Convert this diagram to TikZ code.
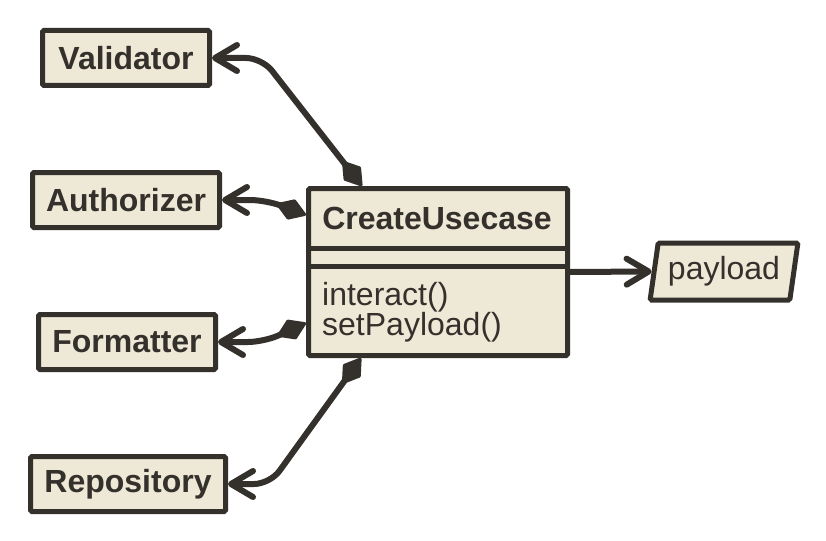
\documentclass[tikz,border=0pt]{standalone}
\usepackage{fontspec}
\setmainfont{Liberation Sans}
\usetikzlibrary{arrows.meta,shapes.geometric,calc}
\definecolor{ink}{HTML}{34312D}
\definecolor{paper}{HTML}{EEE8D6}
\begin{document}
\begin{tikzpicture}[x=1pt,y=-1pt,
  cls/.style={draw=ink, fill=paper, line width=5pt, rounded corners=1.5pt, inner sep=0pt,
    text=ink, font=\fontsize{32}{32}\selectfont\bfseries},
  plain/.style={inner sep=0pt, text=ink, font=\fontsize{32}{30}\selectfont},
  conn/.style={draw=ink, line width=6pt, line cap=round, line join=round, rounded corners=16pt},
  comp/.style={conn, {Diamond[length=34pt,width=22pt,line width=3pt,round]}-{Straight Barb[length=22pt,width=26pt,line width=6pt,round]}},
  dep/.style={conn, -{Straight Barb[length=22pt,width=26pt,line width=6pt,round]}}]
\useasboundingbox (0,0) rectangle (826,540);
% classes
\node[cls, minimum width=167pt, minimum height=55pt] (val) at (126,58) {Validator};
\node[cls, minimum width=187pt, minimum height=55pt] (aut) at (126,200) {Authorizer};
\node[cls, minimum width=177pt, minimum height=55pt] (fmt) at (127,342) {Formatter};
\node[cls, minimum width=195pt, minimum height=55pt] (rep) at (128,484) {Repository};
% main class
\node[cls, minimum width=259pt, minimum height=167pt] (cu) at (438,272) {};
\node[cls, draw=none, fill=none] (cutitle) at (437,218) {CreateUsecase};
\draw[ink, line width=5pt] (cu.west |- 0,248) -- (cu.east |- 0,248);
\draw[ink, line width=5pt] (cu.west |- 0,266) -- (cu.east |- 0,266);
\node[plain, anchor=west, align=left] (methods) at (322,312) {interact()\\setPayload()};
% payload
\node[draw=ink, fill=paper, line width=5pt, trapezium, trapezium left angle=77, trapezium right angle=103,
  trapezium stretches=true, minimum width=148pt, minimum height=57pt, inner sep=0pt, rounded corners=1.5pt,
  text=ink, font=\fontsize{32}{32}\selectfont] (pay) at (724,271.5) {payload};
% connectors
\draw[comp] ($(cu.north west)+(56,0)$) -- ($(val.east)+(50,0)$) -- (val.east);
\draw[comp] ($(cu.north west)+(0,29)$) -- ($(aut.east)+(44,0)$) -- (aut.east);
\draw[comp] ($(cu.north west)+(0,137)$) -- ($(fmt.east)+(46,0)$) -- (fmt.east);
\draw[comp] ($(cu.south west)+(55,0)$) -- ($(rep.east)+(42,0)$) -- (rep.east);
\draw[dep] (cu.east) -- (pay.west);
\end{tikzpicture}
\end{document}
